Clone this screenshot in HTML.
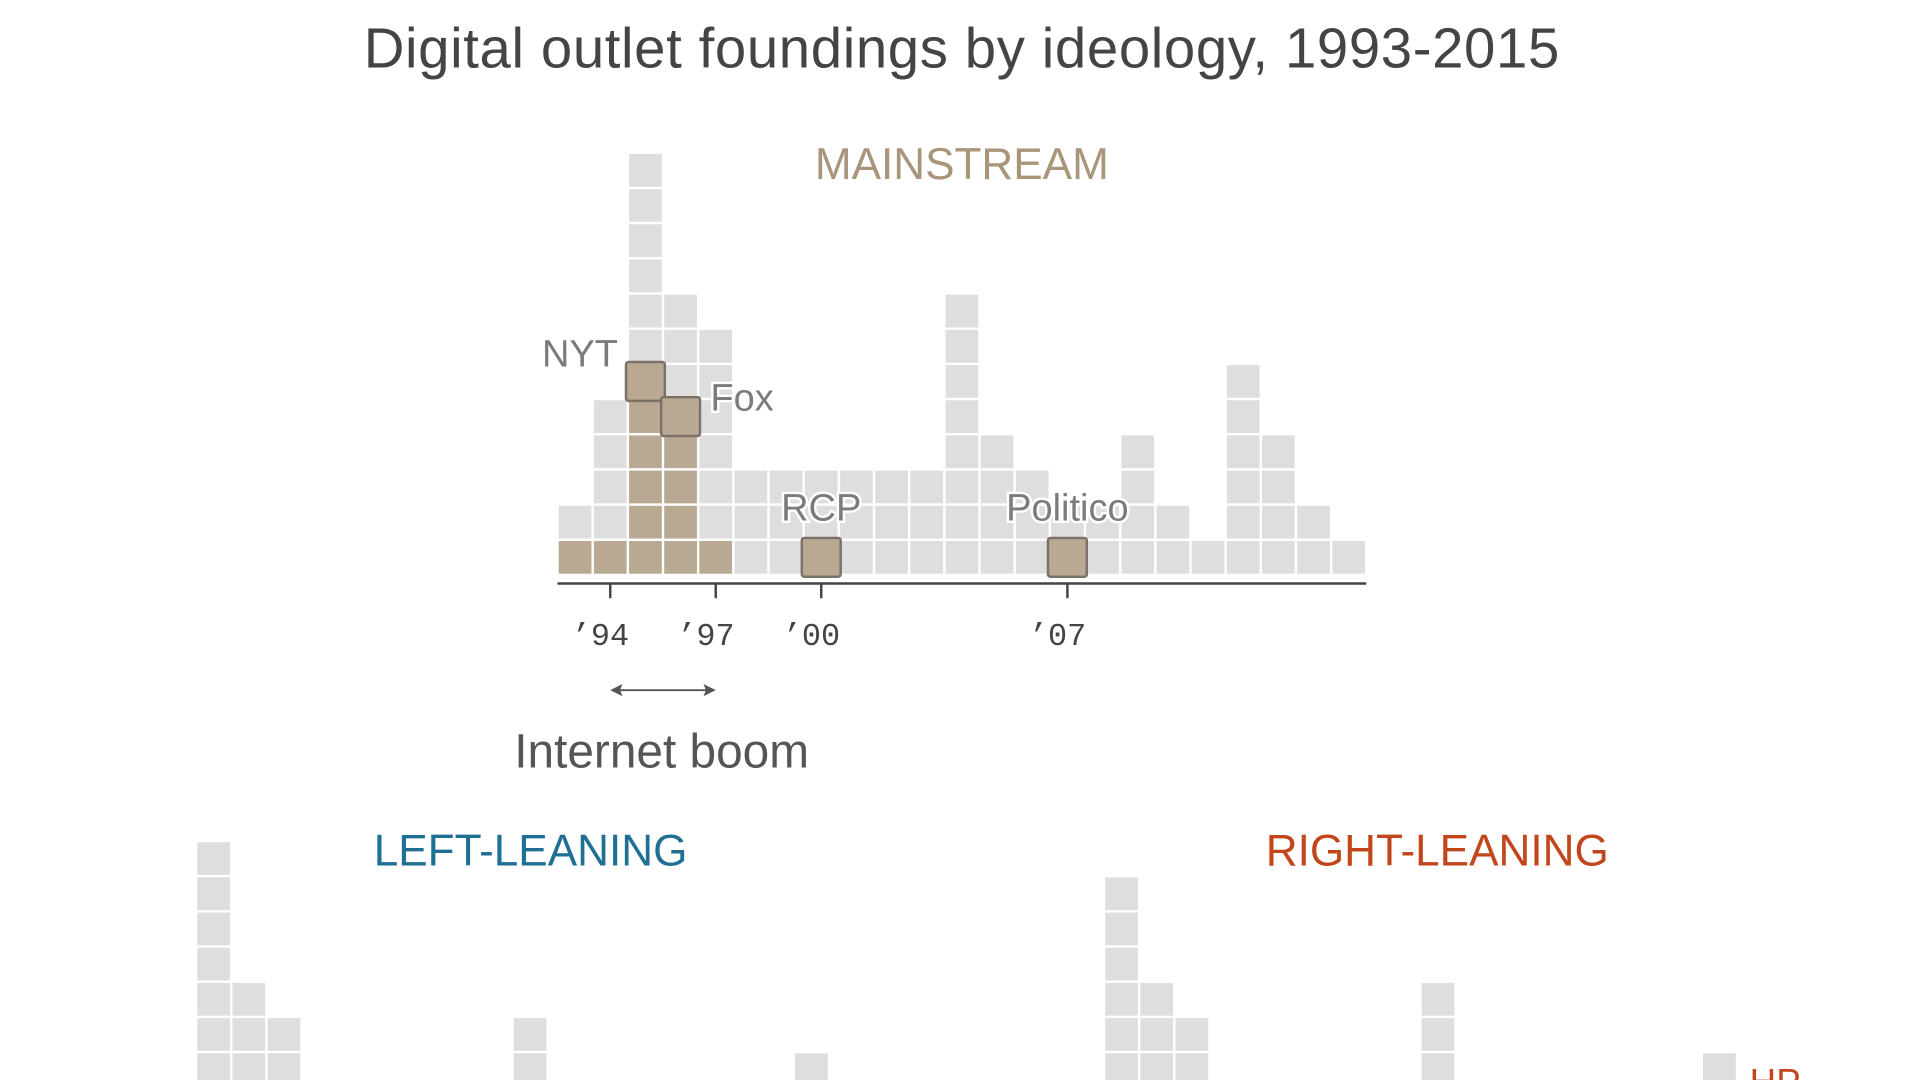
<!DOCTYPE html>
<html><head><meta charset="utf-8">
<style>
html,body{margin:0;padding:0;background:#fff;width:1920px;height:1080px;overflow:hidden}
svg{display:block}
</style></head>
<body>
<svg id="chart" width="1920" height="1080" viewBox="0 0 1567 881" preserveAspectRatio="none" xmlns="http://www.w3.org/2000/svg" style="font-family:'Liberation Sans','DejaVu Sans',sans-serif">
<text x="785" y="55" text-anchor="middle" font-size="46" fill="#444" letter-spacing="0.5">Digital outlet foundings by ideology, 1993-2015</text>
<text x="785" y="146" text-anchor="middle" font-size="36" fill="#a8957a">MAINSTREAM</text>
<text x="433" y="706" text-anchor="middle" font-size="36" fill="#1f6f94">LEFT-LEANING</text>
<text x="1173" y="706" text-anchor="middle" font-size="36" fill="#c2461b">RIGHT-LEANING</text>
<g id="main"></g>
<g id="left"></g>
<g id="right"></g>
<g id="labels"></g>
</svg>
<script>
const years = [1993,1994,1995,1996,1997,1998,1999,2000,2001,2002,2003,2004,2005,2006,2007,2008,2009,2010,2011,2012,2013,2014,2015];
const mainstreamCounts = [2,5,12,8,7,3,3,3,3,3,3,8,4,3,2,2,4,2,1,6,4,2,1];
const mainstreamHighlighted = [1,1,6,5,1,0,0,1,0,0,0,0,0,0,1,0,0,0,0,0,0,0,0];
const leftCounts = [10,6,5,2,1,1,2,1,2,5,2,1,1,2,1,2,1,4];
const rightCounts = [9,6,5,2,1,2,1,2,1,6,2,1,2,1,2,1,1,4];
const tickYears = [1994,1997,2000,2007];
const tickLabels = ["\u201994","\u201997","\u201900","\u201907"];
const outlets = ["NYT","Fox","RCP","Politico"];
const outletYears = [1995,1996,2000,2007];
const outletRows = [6,5,1,1];

const NS="http://www.w3.org/2000/svg";
const cell=28.7;
function mk(tag,attrs,parent){const e=document.createElementNS(NS,tag);for(const k in attrs)e.setAttribute(k,attrs[k]);parent.appendChild(e);return e;}

const mx0=455, mBase=469;
const xMain = y => mx0 + (y-years[0])*cell;
const yRow = (base,r) => base - r*cell;
const gm=document.getElementById('main');
years.forEach((yr,i)=>{
  for(let r=1;r<=mainstreamCounts[i];r++){
    const hl = r<=mainstreamHighlighted[i];
    const c=mk('rect',{x:xMain(yr)+1,y:yRow(mBase,r)+1,width:cell-2,height:cell-2,fill:hl?'#b9a892':'#dedede'},gm);
    
    
  }
});
const ax=mk('line',{x1:mx0,x2:mx0+years.length*cell,y1:mBase+7,y2:mBase+7,stroke:'#444','stroke-width':2},gm);


tickYears.forEach((yr,i)=>{
  const cx=xMain(yr)+cell/2;
  const t=mk('line',{x1:cx,x2:cx,y1:mBase+7,y2:mBase+19,stroke:'#444','stroke-width':2},gm);
  
  
  const l=mk('text',{x:cx-8,y:mBase+57,'text-anchor':'middle','font-size':26,fill:'#444',style:"font-family:'Liberation Mono',monospace"},gm);
  l.textContent=tickLabels[i];
  
  
});
const gl=document.getElementById('labels');
const labelDx=[-8,10,0,0], labelDy=[-22,-15,-40,-40], anchors=['end','start','middle','middle'];
outlets.forEach((o,i)=>{
  const x=xMain(outletYears[i]), y=yRow(mBase,outletRows[i]);
  const b=mk('rect',{x:x-1.5,y:y-1.5,width:cell+3,height:cell+3,rx:2,fill:'#b9a892',stroke:'#7a7268','stroke-width':2},gl);
  
  
  let tx, ty=y+cell/2+10+labelDy[i];
  if(anchors[i]==='end') tx=x+labelDx[i]; else if(anchors[i]==='start') tx=x+cell+labelDx[i]; else tx=x+cell/2;
  const t=mk('text',{x:tx,y:ty,'text-anchor':anchors[i],'font-size':31,fill:'#7b7b7b',stroke:'#fff','stroke-width':4,'paint-order':'stroke'},gl);
  t.textContent=o;
  
  
});
const ab=xMain(1994)+cell/2, ae=xMain(1997)+cell/2;
const arr=mk('line',{x1:ab+4,x2:ae-4,y1:563,y2:563,stroke:'#555','stroke-width':1.5},gl);


mk('path',{d:`M${ab} 563 l10 -5 l-2 5 l2 5 z M${ae} 563 l-10 -5 l2 5 l-2 5 z`,fill:'#555'},gl);
const ib=mk('text',{x:540,y:626,'text-anchor':'middle','font-size':39,fill:'#555'},gl);
ib.textContent='Internet boom';



const bBase=973;
function drawSmall(id,x0,counts,name){
  const g=document.getElementById(id);
  counts.forEach((v,i)=>{
    for(let r=1;r<=v;r++){
      const y=yRow(bBase,r)+1;
      if(y>890) continue;
      const c=mk('rect',{x:x0+i*cell+1,y:y,width:cell-2,height:Math.min(cell-2,890-y),fill:'#dedede'},g);
      
      
    }
  });
}
drawSmall('left',160,leftCounts,'left-leaning');
drawSmall('right',901,rightCounts,'right-leaning');
const hp=mk('text',{x:1428,y:893,'font-size':30,fill:'#c2461b',stroke:'#fff','stroke-width':4,'paint-order':'stroke'},gl);
hp.textContent='HP';


</script>
</body></html>
